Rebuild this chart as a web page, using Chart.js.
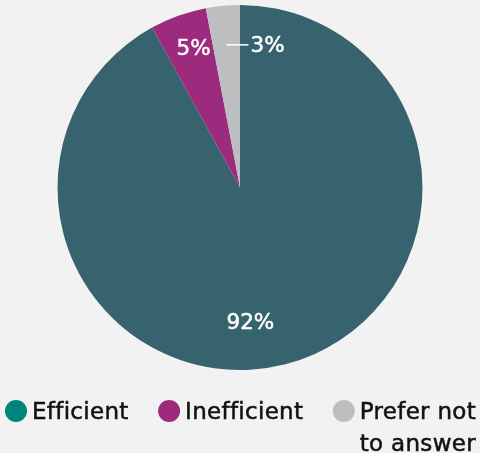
<!DOCTYPE html>
<html><head><meta charset="utf-8">
<script src="https://cdn.jsdelivr.net/npm/chart.js@4"></script>
<style>html,body{margin:0;padding:0;background:#f2f2f2;} #wrap{width:480px;height:453px;position:relative;}</style>
</head><body><div id="wrap"><canvas id="c"></canvas></div>
<script>
const categories = ['Efficient', 'Inefficient', 'Prefer not to answer'];
const legendLines = [['Efficient'], ['Inefficient'], ['Prefer not', 'to answer']];
const values = [92, 5, 3];
const valueLabels = ['92%', '5%', '3%'];
const sliceColors = ['#37636f', '#9c2a7d', '#bdbec0'];
const legendColors = ['#00857a', '#9c2a7d', '#bdbec0'];

const labelCfg = [
  {radius: 0.74, shift: 10, leader: 0},
  {radius: 0.805, shift: 1.4, leader: 0},
  {radius: 0.785, shift: 0, leader: 22}
];
const FONT = '"DejaVu Sans", sans-serif';

function thickText(ctx, s, x, y, color) {
  ctx.fillStyle = color;
  ctx.strokeStyle = color;
  ctx.lineWidth = 0.5;
  ctx.fillText(s, x, y);
  ctx.strokeText(s, x, y);
}

const valueLabelPlugin = {
  id: 'valueLabels',
  afterDatasetsDraw(chart) {
    const ctx = chart.ctx;
    const meta = chart.getDatasetMeta(0);
    ctx.save();
    ctx.font = '21.5px ' + FONT;
    ctx.textBaseline = 'middle';
    meta.data.forEach((arc, i) => {
      const p = arc.getProps(['x', 'y', 'startAngle', 'endAngle', 'outerRadius'], true);
      const c = labelCfg[i];
      const a = (p.startAngle + p.endAngle) / 2 + c.shift * Math.PI / 180;
      const r = p.outerRadius * c.radius;
      const x = p.x + Math.cos(a) * r;
      const y = p.y + Math.sin(a) * r;
      if (c.leader > 0) {
        ctx.strokeStyle = '#ffffff';
        ctx.lineWidth = 1.5;
        ctx.beginPath();
        ctx.moveTo(x, y);
        ctx.lineTo(x + c.leader, y);
        ctx.stroke();
        ctx.textAlign = 'left';
        thickText(ctx, valueLabels[i], x + c.leader + 2, y + 1.5, '#ffffff');
      } else {
        ctx.textAlign = 'center';
        thickText(ctx, valueLabels[i], x, y + 1, '#ffffff');
      }
    });
    ctx.restore();
  }
};

const legendPlugin = {
  id: 'customLegend',
  afterDraw(chart) {
    const ctx = chart.ctx;
    ctx.save();
    ctx.font = '23px ' + FONT;
    if ('letterSpacing' in ctx) ctx.letterSpacing = '0.3px';
    ctx.textBaseline = 'alphabetic';
    ctx.textAlign = 'left';
    let x = 5;
    const dotY = 411, baseY = 419, lineH = 32, rad = 11;
    legendLines.forEach((lines, i) => {
      ctx.fillStyle = legendColors[i];
      ctx.beginPath();
      ctx.arc(x + rad, dotY, rad, 0, Math.PI * 2);
      ctx.fill();
      const tx = x + 2 * rad + 5;
      let w = 0;
      lines.forEach((ln, j) => {
        thickText(ctx, ln, tx, baseY + j * lineH, '#111111');
        w = Math.max(w, ctx.measureText(ln).width);
      });
      x = tx + w + 29.5;
    });
    ctx.restore();
  }
};

new Chart(document.getElementById('c'), {
  type: 'pie',
  data: {
    labels: categories,
    datasets: [{
      data: values,
      backgroundColor: sliceColors,
      borderWidth: 0
    }]
  },
  options: {
    responsive: true,
    maintainAspectRatio: false,
    animation: false,
    layout: {padding: {top: 5, bottom: 83, left: 0, right: 0}},
    plugins: {
      legend: {display: false},
      tooltip: {enabled: false}
    }
  },
  plugins: [valueLabelPlugin, legendPlugin]
});
</script>
</body></html>
